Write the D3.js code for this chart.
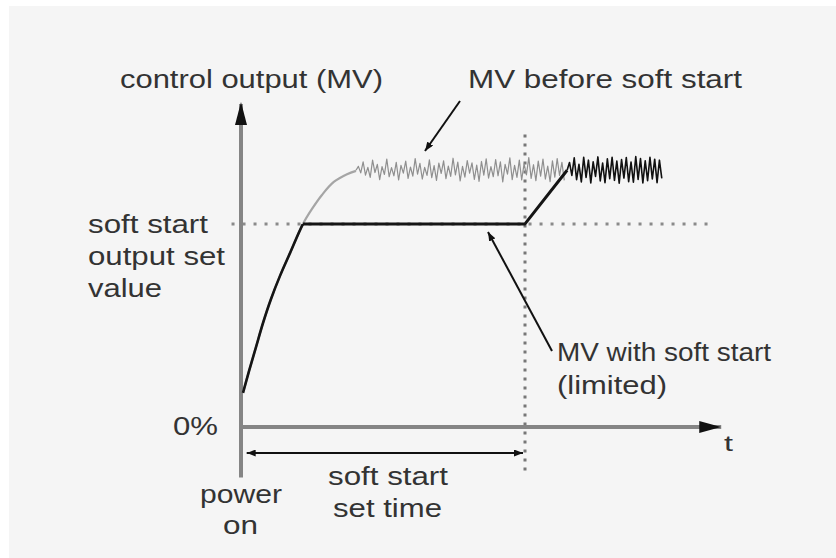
<!DOCTYPE html>
<html>
<head>
<meta charset="utf-8">
<script src="https://cdn.jsdelivr.net/npm/d3@7"></script>
<style>
  html, body { margin: 0; padding: 0; background: #ffffff; }
  svg { display: block; }
  text { font-family: "Liberation Sans", Arial, sans-serif; fill: #333333; }
</style>
</head>
<body>
<svg id="chart" width="836" height="558"></svg>
<script>
// Rise of the manipulated value after power on (time units, MV %)
const riseT  = [0.42, 1.69, 3.17, 4.65, 6.34, 8.24, 10.35, 13.1, 15.0, 17.1, 19.6, 22.4, 24.3];
const riseMV = [10.5, 17.2, 24.6, 32.0, 39.4, 46.5, 53.5, 62.5, 67.1, 71.4, 75.4, 77.8, 78.8];

// Soft start settings
const softStartTime = 60;     // soft start set time
const softLimitMV   = 62.5;   // soft start output set value
const settledMV     = 79;     // normal control output level
const rampEndT      = 68.9;   // MV rejoins normal control here

// Control-output ripple around the settled level (MV % deviation)
const noiseStep  = 0.5;
const grayStartT = 24.3;
const grayNoise = [
  0, 1.2, -0.8, 2.6, -1.5, 0.9, -2.2, 3.1, -0.7, 1.8,
  -2.9, 1.1, -1.3, 3.4, -2.0, 0.8, -1.7, 2.4, -3.0, 1.5,
  -0.9, 2.8, -2.5, 1.0, -1.8, 3.6, -1.2, 2.1, -2.7, 0.9,
  -1.6, 3.2, -2.3, 1.4, -3.1, 2.2, -1.0, 2.9, -2.6, 1.3,
  -1.9, 3.7, -1.4, 2.5, -3.3, 1.2, -2.1, 3.0, -0.9, 2.3,
  -2.8, 1.6, -3.4, 2.7, -1.5, 3.5, -2.4, 1.1, -2.0, 3.3,
  -1.7, 2.6, -3.6, 1.8, -1.2, 3.8, -2.9, 1.5, -2.2, 3.1,
  -3.0, 2.0, -1.4, 3.9, -2.5, 1.7, -3.2, 2.8, -1.8, 3.4,
  -2.7, 1.3, -3.5, 2.9, -2.1, 3.6, -1.6, 2.4, -3.1];
const blackNoise = [
  0, 2.4, -1.6, 3.8, -2.9, 1.8, -3.6, 4.0, -2.2, 3.1,
  -3.9, 2.6, -1.9, 4.1, -3.3, 2.2, -3.8, 3.5, -2.6, 4.0,
  -3.1, 2.8, -4.0, 3.3, -2.4, 3.9, -3.5, 2.5, -3.7, 4.2,
  -2.8, 3.6, -3.9, 2.9, -3.2, 4.0, -2.7, 3.4, -3.8, 3.1, -2.5];

// Axis extents
const axisEndT  = 102.3;
const axisTopMV = 100;

// Labels
const yAxisTitle   = "control output (MV)";
const zeroLabel    = "0%";
const timeLabel    = "t";
const limitLabel   = ["soft start", "output set", "value"];
const beforeLabel  = "MV before soft start";
const withLabel    = ["MV with soft start", "(limited)"];
const powerLabel   = ["power", "on"];
const setTimeLabel = ["soft start", "set time"];

const svg = d3.select("#chart");

const x = d3.scaleLinear().domain([0, softStartTime]).range([241, 525]);
const y = d3.scaleLinear().domain([0, axisTopMV]).range([427, 102]);

// Panel
svg.append("rect").attr("x", 9).attr("y", 6).attr("width", 827).attr("height", 552)
  .attr("fill", "#f5f5f5");

const defs = svg.append("defs");
function marker(id, w, h, color) {
  defs.append("marker").attr("id", id)
    .attr("viewBox", `0 0 ${w} ${h}`).attr("refX", w).attr("refY", h / 2)
    .attr("markerWidth", w).attr("markerHeight", h)
    .attr("markerUnits", "userSpaceOnUse").attr("orient", "auto-start-reverse")
    .append("path").attr("d", `M0,0L${w},${h / 2}L0,${h}Z`).attr("fill", color);
}
marker("axisHead", 22, 12, "#111");
marker("smallHead", 9, 7, "#111");
defs.append("clipPath").attr("id", "belowLimit")
  .append("rect").attr("x", 0).attr("y", y(softLimitMV)).attr("width", 836).attr("height", 400);

// Reference lines
svg.append("line")
  .attr("x1", x(-2)).attr("x2", x(100)).attr("y1", y(softLimitMV)).attr("y2", y(softLimitMV))
  .attr("stroke", "#8a8a8a").attr("stroke-width", 3).attr("stroke-dasharray", "3,8");
svg.append("line")
  .attr("x1", x(softStartTime)).attr("x2", x(softStartTime))
  .attr("y1", y(90)).attr("y2", y(-15))
  .attr("stroke", "#777").attr("stroke-width", 3).attr("stroke-dasharray", "3,6");

// Axes
svg.append("line").attr("x1", x(0)).attr("x2", x(0)).attr("y1", y(-15.5)).attr("y2", y(axisTopMV) + 2)
  .attr("stroke", "#858585").attr("stroke-width", 4);
svg.append("path").attr("d", `M${x(0) - 6},${y(axisTopMV) + 23}L${x(0)},${y(axisTopMV)}L${x(0) + 6},${y(axisTopMV) + 23}Z`)
  .attr("fill", "#111");
svg.append("line").attr("x1", x(0)).attr("x2", x(axisEndT) - 4).attr("y1", y(0)).attr("y2", y(0))
  .attr("stroke", "#858585").attr("stroke-width", 4).attr("marker-end", "url(#axisHead)");

// Soft start set time span
svg.append("line").attr("x1", x(1.2)).attr("x2", x(softStartTime) - 2)
  .attr("y1", y(-8)).attr("y2", y(-8))
  .attr("stroke", "#111").attr("stroke-width", 2.2)
  .attr("marker-start", "url(#smallHead)").attr("marker-end", "url(#smallHead)");

// Curves
const rise = riseT.map((t, i) => [t, riseMV[i]]);
const smooth = d3.line().x(d => x(d[0])).y(d => y(d[1])).curve(d3.curveCatmullRom.alpha(0.5));
const straight = d3.line().x(d => x(d[0])).y(d => y(d[1]));

const grayRipple = grayNoise.map((v, i) => [grayStartT + i * noiseStep, settledMV + v]);
const blackRipple = blackNoise.map((v, i) => [rampEndT + i * noiseStep, settledMV + v]);

// MV before soft start (unlimited)
svg.append("path").attr("d", smooth(rise)).attr("fill", "none")
  .attr("stroke", "#a5a5a5").attr("stroke-width", 2.2);
svg.append("path").attr("d", straight(grayRipple)).attr("fill", "none")
  .attr("stroke", "#8f8f8f").attr("stroke-width", 1.2).attr("stroke-linejoin", "round");

// MV with soft start (limited)
svg.append("path").attr("d", smooth(rise)).attr("fill", "none")
  .attr("clip-path", "url(#belowLimit)")
  .attr("stroke", "#151515").attr("stroke-width", 2.6);
svg.append("path")
  .attr("d", straight([[13.1, softLimitMV], [softStartTime, softLimitMV], [rampEndT, settledMV]]))
  .attr("fill", "none").attr("stroke", "#151515").attr("stroke-width", 3).attr("stroke-linejoin", "round");
svg.append("path").attr("d", straight(blackRipple)).attr("fill", "none")
  .attr("stroke", "#111").attr("stroke-width", 1.6).attr("stroke-linejoin", "round");

// Callout pointers
svg.append("line").attr("x1", 460).attr("y1", 101).attr("x2", 425).attr("y2", 151)
  .attr("stroke", "#111").attr("stroke-width", 2).attr("marker-end", "url(#smallHead)");
svg.append("line").attr("x1", 552).attr("y1", 351).attr("x2", 488).attr("y2", 232)
  .attr("stroke", "#111").attr("stroke-width", 2).attr("marker-end", "url(#smallHead)");

// Text
function label(str, xPos, baseline, width, size) {
  svg.append("text").attr("x", xPos).attr("y", baseline)
    .attr("font-size", size || 25)
    .attr("textLength", width).attr("lengthAdjust", "spacingAndGlyphs")
    .text(str);
}
label(yAxisTitle, 120, 88, 263);
label(beforeLabel, 468, 88, 274);
label(limitLabel[0], 88, 233, 120);
label(limitLabel[1], 88, 265, 137);
label(limitLabel[2], 88, 297, 74);
label(withLabel[0], 557, 361, 214);
label(withLabel[1], 557, 394, 110);
label(zeroLabel, 173, 435, 45);
label(timeLabel, 724, 451, 9, 22);
label(powerLabel[0], 200, 503, 82);
label(powerLabel[1], 223, 534, 35);
label(setTimeLabel[0], 328, 485, 120);
label(setTimeLabel[1], 333, 517, 109);
</script>
</body>
</html>
